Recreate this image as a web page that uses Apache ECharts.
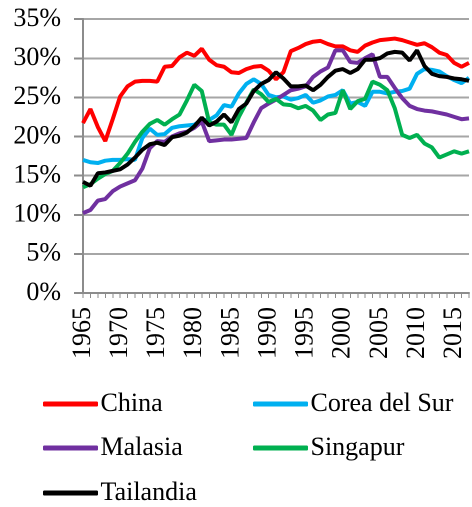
<!DOCTYPE html>
<html>
<head>
<meta charset="utf-8">
<script src="https://cdn.jsdelivr.net/npm/echarts@6/dist/echarts.min.js"></script>
<style>
  html, body { margin: 0; padding: 0; background: #fff; overflow: hidden; }
  #ahorro {
    position: absolute; left: 0; top: 0;
    width: 944px; height: 1014px;
    transform: scale(0.5); transform-origin: 0 0;
  }
</style>
</head>
<body>
<div id="ahorro"></div>
<script>
// años (eje X)
const years = [
  '1965', '1966', '1967', '1968', '1969', '1970', '1971', '1972', '1973', '1974',
  '1975', '1976', '1977', '1978', '1979', '1980', '1981', '1982', '1983', '1984',
  '1985', '1986', '1987', '1988', '1989', '1990', '1991', '1992', '1993', '1994',
  '1995', '1996', '1997', '1998', '1999', '2000', '2001', '2002', '2003', '2004',
  '2005', '2006', '2007', '2008', '2009', '2010', '2011', '2012', '2013', '2014',
  '2015', '2016', '2017'
];

// valores en %
const china = [
  21.7, 23.5, 21.2, 19.4, 22.2, 25.1, 26.4, 27.0, 27.1, 27.1,
  27.0, 28.9, 29.0, 30.1, 30.7, 30.3, 31.2, 29.8, 29.1, 28.9,
  28.2, 28.1, 28.6, 28.9, 29.0, 28.4, 27.3, 28.2, 30.9, 31.3,
  31.8, 32.1, 32.2, 31.8, 31.5, 31.5, 31.0, 30.8, 31.6, 32.0,
  32.3, 32.4, 32.5, 32.3, 32.0, 31.7, 31.9, 31.4, 30.7, 30.4,
  29.4, 28.9, 29.4
];
const corea = [
  17.0, 16.7, 16.6, 16.9, 17.0, 17.0, 17.1, 17.0, 19.8, 21.0,
  20.2, 20.3, 21.1, 21.3, 21.4, 21.5, 22.1, 22.1, 22.7, 24.0,
  23.8, 25.5, 26.7, 27.3, 26.7, 25.3, 25.0, 25.1, 24.7, 24.9,
  25.3, 24.3, 24.6, 25.1, 25.3, 25.9, 24.2, 24.4, 23.9, 25.7,
  25.7, 25.5, 25.7, 25.8, 26.1, 28.0, 28.6, 28.5, 28.3, 27.7,
  27.2, 26.8, 27.5
];
const malasia = [
  10.2, 10.6, 11.8, 12.0, 13.0, 13.6, 14.0, 14.4, 15.9, 18.5,
  19.4, 19.3, 20.0, 20.4, 20.6, 21.1, 21.9, 19.4, 19.5, 19.6,
  19.6, 19.7, 19.8, 21.8, 23.6, 24.2, 24.7, 25.3, 25.9, 26.1,
  26.4, 27.6, 28.3, 28.8, 31.0, 31.0, 29.5, 29.4, 30.0, 30.5,
  27.6, 27.6, 26.2, 24.9, 23.9, 23.5, 23.3, 23.2, 23.0, 22.8,
  22.5, 22.2, 22.3
];
const singapur = [
  13.5, 13.9, 14.6, 15.2, 15.6, 16.6, 17.8, 19.3, 20.6, 21.6,
  22.1, 21.5, 22.2, 22.8, 24.6, 26.6, 25.8, 21.8, 21.5, 21.5,
  20.2, 22.5, 24.3, 26.0, 25.4, 24.4, 24.8, 24.1, 24.0, 23.6,
  23.9, 23.3, 22.1, 22.8, 23.0, 25.9, 23.5, 24.5, 24.8, 27.0,
  26.6, 25.9, 23.6, 20.2, 19.8, 20.2, 19.1, 18.6, 17.3, 17.7,
  18.1, 17.8, 18.1
];
const tailandia = [
  14.2, 13.7, 15.3, 15.4, 15.6, 15.8, 16.4, 17.3, 18.3, 19.0,
  19.2, 18.9, 19.9, 20.1, 20.5, 21.3, 22.4, 21.4, 21.9, 22.8,
  21.8, 23.5, 24.2, 25.8, 26.7, 27.2, 28.2, 27.4, 26.4, 26.4,
  26.5, 25.9, 26.6, 27.6, 28.4, 28.6, 28.1, 28.6, 29.8, 29.8,
  30.0, 30.6, 30.8, 30.7, 29.7, 31.0, 29.0, 28.0, 27.7, 27.6,
  27.4, 27.3, 27.1
];

const seriesNames = ['China', 'Corea del Sur', 'Malasia', 'Singapur', 'Tailandia'];
const seriesValues = [china, corea, malasia, singapur, tailandia];
const seriesColors = ['#FF0000', '#00B0F0', '#7030A0', '#00B050', '#000000'];

function renderAhorro() {
  // se dibuja al doble de tamaño y se reduce con CSS a 472x507
  const S = 2;
  const ff = 'Liberation Serif';
  const inst = echarts.init(document.getElementById('ahorro'));

  // leyenda en dos columnas
  const spots = [
    {left: 43, top: 391},
    {left: 253, top: 391},
    {left: 43, top: 435},
    {left: 253, top: 435},
    {left: 43, top: 480}
  ];

  const opts = {
    backgroundColor: '#fff',
    animation: false,
    grid: {left: 83 * S, right: 3 * S, top: 19 * S, bottom: 214 * S},
    legend: seriesNames.map((n, i) => ({
      data: [n],
      left: spots[i].left * S,
      top: spots[i].top * S,
      padding: 0,
      itemWidth: 55 * S,
      itemHeight: 5 * S,
      itemGap: 5 * S,
      icon: 'roundRect',
      textStyle: {color: '#000', fontSize: 26 * S, fontFamily: ff}
    })),
    xAxis: {
      type: 'category',
      data: years,
      boundaryGap: false,
      axisLine: {lineStyle: {color: '#8C8C8C', width: 2 * S}},
      axisTick: {show: true, interval: 0, length: 5 * S, lineStyle: {color: '#8C8C8C', width: 1 * S}},
      axisLabel: {interval: 4, rotate: 90, margin: 14 * S, color: '#000', fontSize: 26 * S, fontFamily: ff}
    },
    yAxis: {
      type: 'value',
      min: 0,
      max: 35,
      interval: 5,
      axisLine: {show: true, lineStyle: {color: '#8C8C8C', width: 2 * S}},
      axisTick: {show: true, length: 9 * S, lineStyle: {color: '#8C8C8C', width: 2 * S}},
      axisLabel: {formatter: '{value}%', margin: 22 * S, color: '#000', fontSize: 26 * S, fontFamily: ff},
      splitLine: {lineStyle: {color: '#A6A6A6', width: 2 * S}}
    },
    series: seriesNames.map((n, i) => ({
      name: n,
      type: 'line',
      data: seriesValues[i],
      showSymbol: false,
      symbol: 'none',
      color: seriesColors[i],
      lineStyle: {color: seriesColors[i], width: 4 * S}
    }))
  };

  inst.setOption(opts);
}

renderAhorro();
</script>
</body>
</html>
